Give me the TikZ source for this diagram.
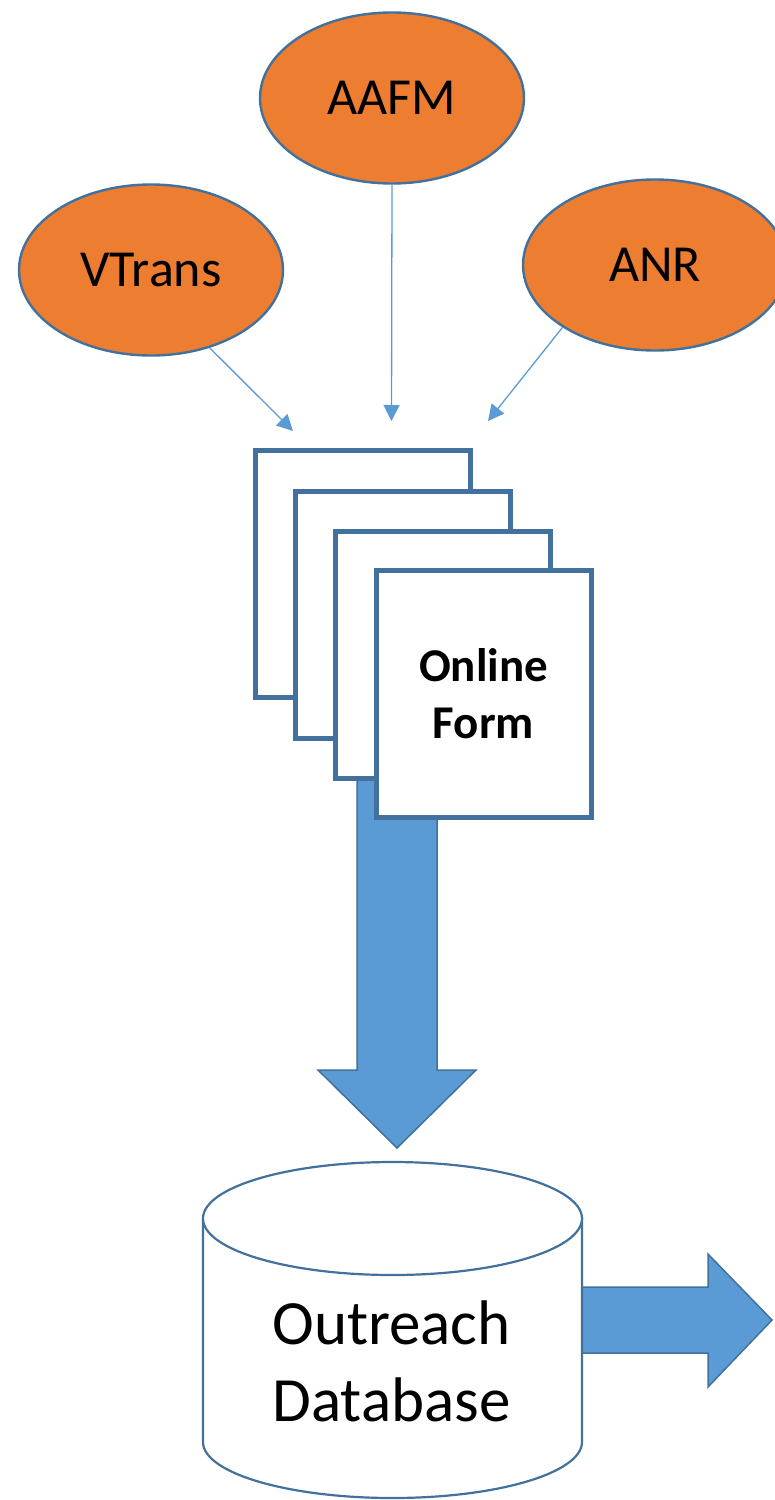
\documentclass[tikz,border=0pt]{standalone}
\usepackage{fontspec}
\setmainfont{Carlito}
\usetikzlibrary{shapes.geometric,arrows.meta}
\definecolor{orng}{HTML}{ED7D31}
\definecolor{edge}{HTML}{41719C}
\definecolor{lblue}{HTML}{5B9BD5}
\tikzset{
  agency/.style={ellipse, draw=edge, line width=2.4pt, fill=orng, minimum width=264pt, minimum height=171pt, inner sep=0pt, font=\fontsize{52}{63}\selectfont},
  feed/.style={draw=lblue, line width=1.3pt, -{Triangle[length=16pt,width=16pt]}},
  formbox/.style={rectangle, draw=edge, line width=5pt, fill=white, minimum width=215pt, minimum height=247pt, inner sep=0pt},
  blockarrow/.style={fill=lblue, draw=edge, line width=1.5pt, line join=miter},
  cyl/.style={draw=edge, line width=2.2pt, fill=white}
}
\begin{document}
\begin{tikzpicture}[x=1pt,y=-1pt]
\useasboundingbox (0,0) rectangle (775,1500);
% agencies
\node[agency] (aafm) at (392,98) {AAFM};
\node[agency] (vtrans) at (151,270) {VTrans};
\node[agency] (anr) at (655,265) {ANR};
\coordinate (tv) at (293,431);
\coordinate (ta) at (391.5,421);
\coordinate (tn) at (488,421);
\draw[feed] (vtrans.-53) -- (tv);
\draw[feed] (aafm.south) -- (ta);
\draw[feed] (anr.-146) -- (tn);
% big down arrow
\draw[blockarrow] (357,740) -- (357,1070) -- (318,1070) -- (397,1148) -- (476,1070) -- (437,1070) -- (437,740) -- cycle;
% forms
\node[formbox] (f1) at (363,574) {};
\node[formbox] (f2) at (403,615) {};
\node[formbox] (f3) at (443,655) {};
\node[formbox, align=center, font=\bfseries\fontsize{47}{57}\selectfont] (f4) at (483.5,694) {Online\\Form};
% right arrow
\draw[blockarrow] (570,1287) -- (708,1287) -- (708,1254) -- (772,1320) -- (708,1387) -- (708,1353) -- (570,1353) -- cycle;
% cylinder
\draw[cyl] (203,1218.5) -- (203,1442) arc[start angle=180, end angle=0, x radius=189.5, y radius=56] -- (582,1218.5) -- cycle;
\draw[cyl] (392.5,1218.5) ellipse[x radius=189.5, y radius=56.5];
\node[align=center, font=\fontsize{63}{77}\selectfont, inner sep=0pt] (db) at (391.5,1361) {Outreach\\Database};
\end{tikzpicture}
\end{document}
